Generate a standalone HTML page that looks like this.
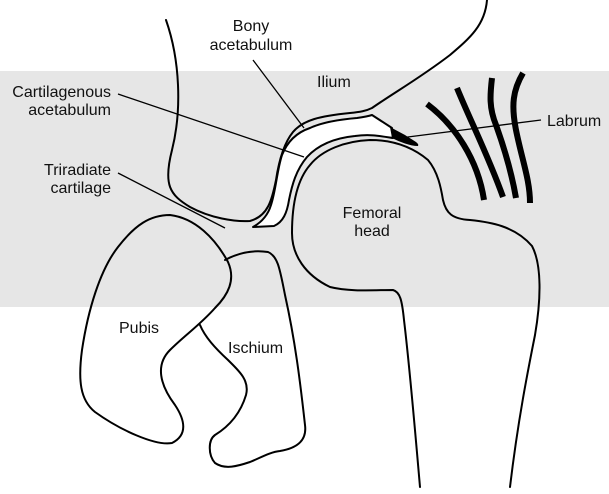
<!DOCTYPE html>
<html><head><style>
html,body{margin:0;padding:0;background:#fff}
svg{display:block}
text{font-family:"Liberation Sans",Arial,sans-serif;font-size:16px;fill:#111}
</style></head><body>
<svg width="609" height="494" viewBox="0 0 609 494" xmlns="http://www.w3.org/2000/svg">
<rect x="0" y="71" width="609" height="236" fill="#e6e6e6"/>
<g fill="none" stroke="#000" stroke-width="2" stroke-linejoin="round" stroke-linecap="round">
<!-- ilium outer -->
<path d="M166,20 C180,60 182,110 172,150 C163,185 170,195 190,207 C210,218 235,222 250,221 C268,216 272,200 276,180 C279,160 284,143 293,132 C303,120 320,116 350,113 C360,112 366,111 372,108 C395,92 420,78 450,55 C470,38 485,25 487,0"/>
<!-- white cartilage crescent -->
<path fill="#fff" d="M253,227 C262,222 268,215 271,205 C276,190 277,170 282,155 C288,140 298,132 310,128 C325,121 345,119 357,118 C364,117 369,116 372,115 L392,128 L393,138 C380,136 370,134 355,136 C335,138 318,145 307,157 C296,170 292,185 289,200 C287,213 283,222 274,226 Z"/>
<!-- femoral head -->
<path d="M292,233 C292,205 297,180 310,165 C322,150 345,141 370,140 C390,140 410,145 428,160 C438,172 441,188 443,200 C446,213 452,219 470,220 C490,222 515,226 532,246 C542,265 541,300 535,335 C528,370 518,420 510,487"/>
<path d="M292,233 C292,255 305,275 330,287 C350,292 375,290 393,290 C400,292 402,300 404,320 C410,370 415,430 420,487"/>
<!-- pubis -->
<path d="M118,247 C135,225 150,215 170,215 C195,218 215,238 228,262 C236,280 228,295 215,308 C200,325 185,335 170,350 C155,365 160,385 175,405 C185,420 188,435 172,443 C155,446 120,430 95,412 C80,400 78,380 82,350 C88,310 100,270 118,247 Z"/>
<!-- ischium -->
<path d="M225,260 C240,252 255,250 268,252 C278,256 280,270 285,295 C295,340 300,380 305,425 C307,440 298,448 280,451 C270,452 260,458 250,462 C238,466 225,470 215,463 C208,455 208,440 215,435 C228,427 240,415 246,395 C250,380 238,370 228,360 C215,348 205,337 200,325"/>
</g>
<!-- labrum triangle -->
<path d="M390,127 L392,138 C400,142 410,146 418,146 C420,143 412,140 405,135 Z" fill="#000"/>
<!-- thick strokes -->
<g fill="none" stroke="#000" stroke-width="6" stroke-linecap="butt">
<path d="M427,104 C455,125 478,160 484,200"/>
<path d="M457,88 C470,120 488,155 503,197"/>
<path d="M492,78 C490,95 489,108 496,125 C505,150 512,175 516,198"/>
<path d="M523,73 C513,90 511,105 516,130 C522,160 530,180 530,203"/>
</g>
<!-- leader lines -->
<g stroke="#000" stroke-width="1.3">
<line x1="118" y1="94" x2="304" y2="157"/>
<line x1="118" y1="173" x2="225" y2="228"/>
<line x1="253" y1="60" x2="304" y2="128"/>
<line x1="400" y1="138" x2="541" y2="120"/>
</g>
<text x="111" y="97" text-anchor="end">Cartilagenous</text>
<text x="111" y="115" text-anchor="end">acetabulum</text>
<text x="111" y="175" text-anchor="end">Triradiate</text>
<text x="111" y="193" text-anchor="end">cartilage</text>
<text x="251" y="31" text-anchor="middle">Bony</text>
<text x="251" y="50" text-anchor="middle">acetabulum</text>
<text x="317" y="87">Ilium</text>
<text x="547" y="126">Labrum</text>
<text x="372" y="218" text-anchor="middle">Femoral</text>
<text x="372" y="236" text-anchor="middle">head</text>
<text x="119" y="333">Pubis</text>
<text x="228" y="353">Ischium</text>
</svg>
</body></html>
